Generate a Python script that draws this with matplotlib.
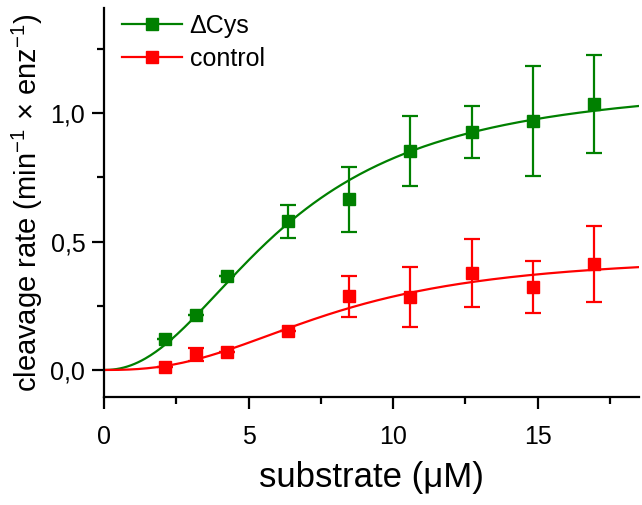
import numpy as np
import matplotlib
matplotlib.use("Agg")
import matplotlib.pyplot as plt
from matplotlib.lines import Line2D
from matplotlib.ticker import MultipleLocator, FuncFormatter

plt.rcParams['font.family'] = ['Liberation Sans', 'DejaVu Sans']
plt.rcParams['mathtext.fontset'] = 'custom'
plt.rcParams['mathtext.rm'] = 'Liberation Sans'

# substrate concentrations (uM)
substrate = [2.12, 3.18, 4.24, 6.36, 8.48, 10.6, 12.72, 14.84, 16.96]

# cleavage rates
dcys_rate = [0.12, 0.214, 0.367, 0.579, 0.665, 0.853, 0.927, 0.969, 1.037]
dcys_err = [0.0, 0.0, 0.0, 0.063, 0.127, 0.135, 0.10, 0.215, 0.19]
ctrl_rate = [0.012, 0.061, 0.071, 0.153, 0.288, 0.283, 0.379, 0.324, 0.412]
ctrl_err = [0.0, 0.025, 0.0, 0.0, 0.08, 0.117, 0.132, 0.102, 0.148]

# Hill fit parameters (Vmax, K, n)
dcys_fit = [1.13, 6.3, 2.15]
ctrl_fit = [0.45, 8.0, 2.5]

green = '#008000'
red = '#ff0000'


def hill(x, vmax, k, n):
    return vmax * x ** n / (k ** n + x ** n)


fig = plt.figure(figsize=(6.42, 5.05), dpi=100)
ax = fig.add_axes([0.162, 0.214, 0.833, 0.770])

xs = np.linspace(0, 18.5, 300)
ax.plot(xs, hill(xs, *dcys_fit), color=green, lw=1.6, zorder=2)
ax.plot(xs, hill(xs, *ctrl_fit), color=red, lw=1.6, zorder=2)

ax.errorbar(substrate, dcys_rate, yerr=dcys_err, fmt='s', color=green,
            ms=8.5, elinewidth=1.6, capsize=5.5, capthick=1.6, zorder=3)
ax.errorbar(substrate, ctrl_rate, yerr=ctrl_err, fmt='s', color=red,
            ms=8.5, elinewidth=1.6, capsize=5.5, capthick=1.6, zorder=3)

handles = [Line2D([], [], color=green, lw=1.6, marker='s', ms=8.5),
           Line2D([], [], color=red, lw=1.6, marker='s', ms=8.5)]
ax.legend(handles, ['ΔCys', 'control'], loc='upper left', frameon=False,
          fontsize=18, handlelength=2.4, borderaxespad=0.0,
          bbox_to_anchor=(0.015, 1.01), labelspacing=0.35, handletextpad=0.3)

ax.set_xlim(0, 18.5)
ax.set_ylim(-0.105, 1.41)
ax.xaxis.set_major_locator(MultipleLocator(5))
ax.xaxis.set_minor_locator(MultipleLocator(2.5))
ax.yaxis.set_major_locator(MultipleLocator(0.5))
ax.yaxis.set_minor_locator(MultipleLocator(0.25))
ax.yaxis.set_major_formatter(FuncFormatter(lambda v, p: f"{v:.1f}".replace('.', ',')))

for s in ['top', 'right']:
    ax.spines[s].set_visible(False)
for s in ['left', 'bottom']:
    ax.spines[s].set_linewidth(1.6)
ax.tick_params(which='major', length=8.5, width=1.6, labelsize=18, pad=5)
ax.tick_params(axis='x', which='major', pad=12)
ax.tick_params(which='minor', length=5, width=1.6)

ax.set_xlabel('substrate (μM)', fontsize=25, labelpad=8)
ax.set_ylabel('cleavage rate (min$^{-1}$ × enz$^{-1}$)', fontsize=21, labelpad=4)

fig.savefig('out.png', dpi=100)
